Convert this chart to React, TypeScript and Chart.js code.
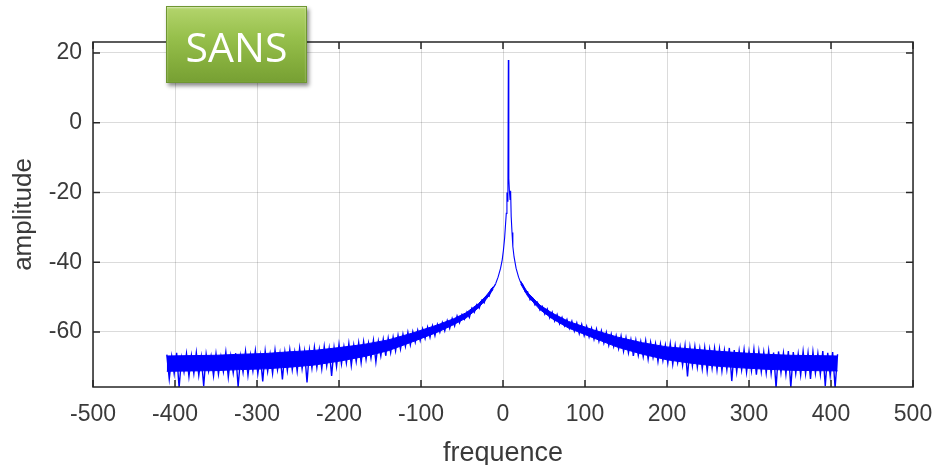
import React, { useEffect, useRef } from "react";
import { Chart, registerables } from "chart.js";

Chart.register(...registerables);

// Frequency grid of the two noise-floor segments (Hz)
const LEFT_FREQ_START = -410;
const RIGHT_FREQ_START = 24;
const FREQ_STEP = 3;
const PEAK_FREQ = 6.5;

// Amplitude (dB), left noise floor: -410 .. -14 Hz
const leftAmplitudes = [
  -66.5, -73.5, -67, -72, -66, -76, -67.5, -71.5, -66.2, -72.8,
  -66.8, -71.9, -65.9, -72.5, -67.2, -75.5, -66.4, -71.2, -67, -72.6,
  -66.3, -72.1, -67.1, -71.4, -65.8, -73, -66.9, -71.8, -66.1, -75.8,
  -67, -71.6, -65.6, -72.4, -66.6, -71.2, -65.4, -72, -66.8, -74.2,
  -65.5, -71.3, -66.4, -71.9, -65.2, -70.8, -66.2, -73.6, -65.8, -71.1,
  -65.1, -70.9, -65.8, -71.3, -64.7, -70.6, -65.6, -74.5, -65.2, -70.4,
  -64.4, -70.2, -65, -70.6, -64.2, -69.8, -64.8, -72.6, -64.5, -69.9,
  -63.6, -69.2, -64.2, -68.9, -63.3, -69.6, -63.8, -68.5, -63.1, -68.8,
  -62.8, -67.9, -63.2, -67.5, -62.4, -68.6, -62.7, -66.9, -62.1, -66.8,
  -61.7, -66, -61.4, -65.5, -60.9, -65, -60.6, -64.2, -60, -63.8,
  -59.9, -63, -59.5, -62.5, -59.1, -61.9, -58.6, -61.6, -58.2, -61.1,
  -57.8, -60.1, -57.3, -59.7, -56.7, -59, -56.1, -58.3, -55.4, -57.4,
  -55, -56.4, -54.3, -55.9, -53.2, -54.4, -52.2, -53.2, -50.9, -51.7,
  -49.6, -49.8, -47.6,
];

// Central peak region (Hz, dB)
const peakFrequencies = [
  -12, -9, -6, -3, -1, 0.5, 2, 3, 4, 4.8, 5.4, 6, 6.5, 7.1, 7.8, 8.6, 9.3, 10, 11, 12, 13.5, 16, 19, 21.5,
];
const peakAmplitudes = [
  -47.4, -46.2, -44.3, -41.8, -39.4, -36.6, -33, -29.5, -26, -20, -22.5, -20, 18, -16, -19.5, -22, -19.5, -27, -31.5, -35.5, -38.5, -41.8, -44.3, -45.8,
];

// Right noise floor: 24 .. 408 Hz
const rightAmplitudes = [
  -46.4, -48.6, -48.5, -50.8, -50.2, -52.3, -51.5, -53.7, -52.7, -54.9,
  -53.4, -56, -54.3, -56.9, -55, -57.7, -55.8, -58.3, -56.4, -59,
  -56.9, -59.8, -57.4, -60.5, -57.8, -61.1, -58.4, -61.5, -58.9, -62.2,
  -59.1, -62.7, -59.6, -63.2, -60.1, -63.9, -60.6, -64.2, -61, -64.8,
  -61.1, -65.6, -61.6, -66.1, -62.2, -66.9, -62.4, -66.7, -62.8, -67.1,
  -62.5, -67.8, -63, -67.3, -63.4, -68.5, -63.5, -68.2, -63.8, -68.9,
  -63.4, -69.3, -63.9, -68.8, -64.3, -69.6, -64, -72.8, -64.4, -69.7,
  -64.2, -70.1, -64.8, -70.6, -64.5, -71.2, -65, -70.4, -64.7, -70.9,
  -64.9, -71.2, -65.3, -70.8, -64.6, -74.1, -65.2, -71.5, -65.4, -70.9,
  -65.1, -71.6, -65.6, -71.1, -65, -72.3, -65.5, -71.4, -65.8, -71.8,
  -65.4, -72, -65.9, -76, -65.6, -71.7, -66.1, -72.2, -65.5, -75.9,
  -65.8, -71.9, -66.3, -72.4, -65.6, -72, -66, -73.5, -65.7, -71.8,
  -66.2, -72.2, -65.5, -75.5, -66, -72.6, -65.8, -76, -66.4,
];

// Dense core of the noise band (where the trace is solid blue)
const coreLeftFreqs = [-410, -380, -350, -320, -290, -260, -230, -200, -170, -140, -110, -80, -60, -45, -30, -20, -12];
const coreLeftUpper = [-66.9, -66.8, -66.7, -66.4, -66.2, -65.7, -65.3, -64.5, -63.6, -62.3, -60.3, -58, -56.2, -54.5, -51.9, -49.5, -47];
const coreLeftLower = [-71.3, -71.2, -71.1, -70.8, -70.6, -70.1, -69.5, -68.4, -67.1, -65.4, -62.8, -60.1, -57.9, -56, -53.1, -50.5, -47.8];
const coreRightFreqs = [21.5, 30, 45, 60, 80, 110, 140, 170, 200, 230, 260, 290, 320, 350, 380, 408];
const coreRightUpper = [-45.4, -48.7, -52.3, -54.6, -57, -59.4, -61.5, -63.1, -64.3, -64.9, -65.5, -66, -66.4, -66.7, -66.8, -66.9];
const coreRightLower = [-46.2, -49.7, -53.6, -56.2, -58.9, -61.7, -64.4, -66.4, -68, -69, -69.8, -70.3, -70.7, -71, -71.1, -71.2];

const xTickValues = [-500, -400, -300, -200, -100, 0, 100, 200, 300, 400, 500];
const yTickValues = [-60, -40, -20, 0, 20];
const X_MIN = -500;
const X_MAX = 500;
const Y_MIN = -75.8;
const Y_MAX = 23.15;

const xTitle = "frequence";
const yTitle = "amplitude";
const badgeText = "SANS";

const TICK_FONT = "'Liberation Sans', Arial, Helvetica, sans-serif";
const BLUE = "#0000ff";

const framePlugin = {
  id: "matlabFrame",
  afterDraw(chart: any) {
    const { ctx, chartArea: a, scales } = chart;
    const L = 7;
    ctx.save();
    ctx.strokeStyle = "#262626";
    ctx.lineWidth = 1.5;
    ctx.beginPath();
    for (const t of scales.x.ticks) {
      const px = scales.x.getPixelForValue(t.value);
      ctx.moveTo(px, a.bottom);
      ctx.lineTo(px, a.bottom - L);
      ctx.moveTo(px, a.top);
      ctx.lineTo(px, a.top + L);
    }
    for (const t of scales.y.ticks) {
      const py = scales.y.getPixelForValue(t.value);
      ctx.moveTo(a.left, py);
      ctx.lineTo(a.left + L, py);
      ctx.moveTo(a.right, py);
      ctx.lineTo(a.right - L, py);
    }
    ctx.stroke();
    ctx.strokeRect(a.left, a.top, a.right - a.left, a.bottom - a.top);
    ctx.restore();
  },
};

const pairs = (xs: number[], ys: number[]) => xs.map((x, i) => ({ x, y: ys[i] }));

export default function App() {
  const canvasRef = useRef<HTMLCanvasElement | null>(null);

  useEffect(() => {
    if (!canvasRef.current) return;
    const points: { x: number; y: number }[] = [];
    leftAmplitudes.forEach((y, i) => points.push({ x: LEFT_FREQ_START + i * FREQ_STEP, y }));
    peakFrequencies.forEach((x, i) => points.push({ x, y: peakAmplitudes[i] }));
    rightAmplitudes.forEach((y, i) => points.push({ x: RIGHT_FREQ_START + i * FREQ_STEP, y }));

    const coreStyle = {
      borderColor: BLUE,
      borderWidth: 1,
      pointRadius: 0,
      tension: 0,
      backgroundColor: BLUE,
    };

    const chart = new Chart(canvasRef.current, {
      type: "line",
      data: {
        datasets: [
          {
            data: points,
            borderColor: BLUE,
            borderWidth: 1,
            pointRadius: 0,
            tension: 0,
            fill: false,
            segment: {
              borderWidth: (c: any) => {
                const d = Math.abs(c.p0.parsed.x - PEAK_FREQ);
                if (d > 150) return 1.4;
                if (d > 18) return 1.3;
                return 1.1;
              },
            },
          },
          { ...coreStyle, data: pairs(coreLeftFreqs, coreLeftLower), fill: false },
          { ...coreStyle, data: pairs(coreLeftFreqs, coreLeftUpper), fill: "-1" },
          { ...coreStyle, data: pairs(coreRightFreqs, coreRightLower), fill: false },
          { ...coreStyle, data: pairs(coreRightFreqs, coreRightUpper), fill: "-1" },
        ],
      },
      options: {
        animation: false,
        responsive: false,
        events: [],
        layout: { padding: { left: 0, right: 21, top: 42, bottom: 0 } },
        plugins: {
          legend: { display: false },
          tooltip: { enabled: false },
          title: { display: false },
          filler: { propagate: false },
        },
        scales: {
          x: {
            type: "linear",
            min: X_MIN,
            max: X_MAX,
            afterBuildTicks: (scale: any) => {
              scale.ticks = xTickValues.map((v) => ({ value: v }));
            },
            afterFit: (scale: any) => {
              scale.height = 103;
              scale.paddingLeft = 0;
              scale.paddingRight = 0;
            },
            ticks: {
              color: "#3a3a3a",
              font: { family: TICK_FONT, size: 23 },
              padding: 14,
              maxRotation: 0,
              autoSkip: false,
            },
            grid: { color: "rgba(0,0,0,0.14)", lineWidth: 1, drawTicks: false },
            border: { display: false },
            title: {
              display: true,
              text: xTitle,
              color: "#3a3a3a",
              font: { family: TICK_FONT, size: 27 },
              padding: { top: 0, bottom: 20 },
            },
          },
          y: {
            type: "linear",
            min: Y_MIN,
            max: Y_MAX,
            afterBuildTicks: (scale: any) => {
              scale.ticks = yTickValues.map((v) => ({ value: v }));
            },
            afterFit: (scale: any) => {
              scale.width = 93;
              scale.paddingTop = 0;
              scale.paddingBottom = 0;
            },
            ticks: {
              color: "#3a3a3a",
              font: { family: TICK_FONT, size: 23 },
              padding: 11,
              autoSkip: false,
            },
            grid: { color: "rgba(0,0,0,0.14)", lineWidth: 1, drawTicks: false },
            border: { display: false },
            title: {
              display: true,
              text: yTitle,
              color: "#3a3a3a",
              font: { family: TICK_FONT, size: 26 },
              padding: { top: 8, bottom: 0 },
            },
          },
        },
      },
      plugins: [framePlugin],
    } as any);
    return () => chart.destroy();
  }, []);

  return (
    <div
      style={{
        position: "absolute",
        left: 0,
        top: 0,
        width: 934,
        height: 465,
        overflow: "hidden",
        background: "#ffffff",
      }}
    >
      <canvas ref={canvasRef} width={934} height={490} style={{ width: 934, height: 490, display: "block" }} />
      <div
        style={{
          position: "absolute",
          left: 166,
          top: 6,
          width: 141,
          height: 77,
          boxSizing: "border-box",
          border: "1px solid #6f9632",
          background: "linear-gradient(to bottom, #b3d46c 0%, #97c04c 40%, #84ad3c 75%, #77a033 100%)",
          boxShadow: "2px 3px 4px rgba(0,0,0,0.45), inset 0 1px 2px rgba(255,255,255,0.5)",
          display: "flex",
          alignItems: "center",
          justifyContent: "center",
          color: "#ffffff",
          fontFamily: "'Open Sans', 'Noto Sans', sans-serif",
          fontSize: 41,
          lineHeight: 1,
          paddingTop: 4,
        }}
      >
        {badgeText}
      </div>
    </div>
  );
}
